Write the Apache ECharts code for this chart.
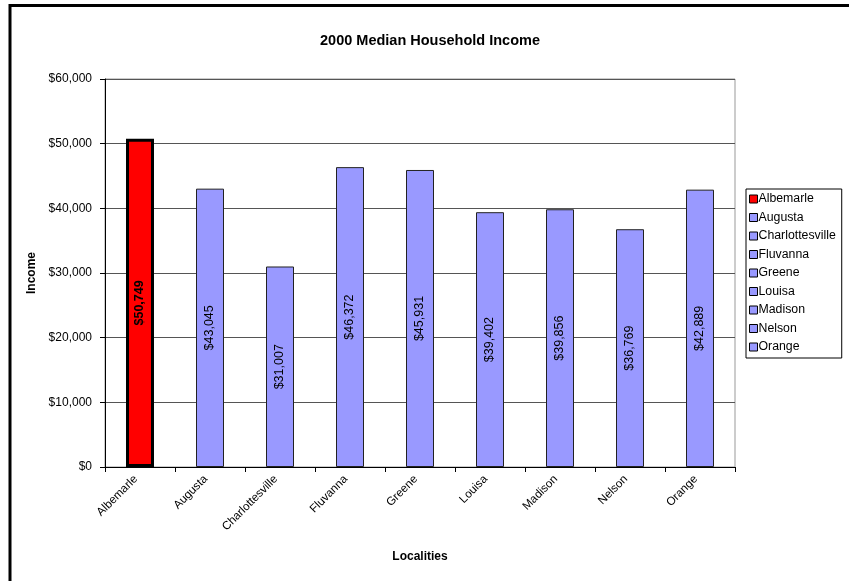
<!DOCTYPE html>
<html>
<head>
<meta charset="utf-8">
<script src="https://cdn.jsdelivr.net/npm/echarts@6/dist/echarts.min.js"></script>
<style>html,body{margin:0;padding:0;background:#fff}#c{width:849px;height:581px}</style>
</head>
<body>
<div id="c"></div>
<script>
const categories = ['Albemarle','Augusta','Charlottesville','Fluvanna','Greene','Louisa','Madison','Nelson','Orange'];
const incomes = [50749, 43045, 31007, 46372, 45931, 39402, 39856, 36769, 42889];
const yTicks = [0, 10000, 20000, 30000, 40000, 50000, 60000];

const fmt = v => '$' + v.toLocaleString('en-US');
const FONT = 'Liberation Sans, Arial, sans-serif';

const series = categories.map((name, i) => {
  const isFirst = i === 0;
  return {
    name: name,
    type: 'bar',
    barWidth: 28,
    barGap: '-100%',
    data: categories.map((c, j) => j === i ? incomes[i] : '-'),
    itemStyle: isFirst
      ? { color: '#ff0000', borderColor: '#000', borderWidth: 3 }
      : { color: '#9999ff', borderColor: '#222', borderWidth: 1 },
    label: {
      show: true,
      position: 'inside',
      rotate: 90,
      formatter: p => fmt(p.value),
      color: '#000',
      fontSize: 12.5,
      fontFamily: FONT,
      fontWeight: isFirst ? 'bold' : 'normal'
    }
  };
});

const chart = echarts.init(document.getElementById('c'), null, {renderer: 'canvas'});
chart.setOption({
  animation: false,
  backgroundColor: '#fff',
  title: {
    text: '2000 Median Household Income',
    left: 425, top: 28, textAlign: 'center',
    textStyle: { fontSize: 14.5, fontWeight: 'bold', color: '#000', fontFamily: FONT }
  },
  legend: {
    orient: 'vertical',
    left: 746, top: 189,
    itemWidth: 8, itemHeight: 8, itemGap: 4.5,
    icon: 'rect',
    padding: [3, 6, 4, 3],
    borderColor: '#000', borderWidth: 1,
    data: categories,
    textStyle: { fontSize: 12.3, lineHeight: 14, color: '#000', fontFamily: FONT, padding: [0, 0, 0, -4] },
    itemStyle: { borderColor: '#000', borderWidth: 1 }
  },
  grid: {
    left: 105, right: 114, top: 79, bottom: 114,
    show: true, borderColor: '#999', borderWidth: 1
  },
  xAxis: {
    type: 'category',
    data: categories,
    name: 'Localities',
    nameLocation: 'middle',
    nameGap: 84,
    nameTextStyle: { fontSize: 12, fontWeight: 'bold', color: '#000', fontFamily: FONT },
    axisLine: { lineStyle: { color: '#000' } },
    axisTick: { show: true, length: 5, lineStyle: { color: '#000' } },
    axisLabel: { rotate: 45, fontSize: 11.6, color: '#000', fontFamily: FONT, margin: 6, padding: [0, 6, 0, 0] }
  },
  yAxis: {
    type: 'value',
    min: yTicks[0], max: yTicks[yTicks.length - 1], interval: 10000,
    name: 'Income',
    nameLocation: 'middle',
    nameGap: 60,
    nameTextStyle: { fontSize: 12, fontWeight: 'bold', color: '#000', fontFamily: FONT },
    axisLine: { show: true, lineStyle: { color: '#000' } },
    axisTick: { show: true, length: 5, lineStyle: { color: '#000' } },
    axisLabel: { formatter: v => fmt(v), fontSize: 12, color: '#000', fontFamily: FONT, margin: 13 },
    splitLine: { show: true, lineStyle: { color: '#555', width: 1 } }
  },
  graphic: [
    { type: 'line', shape: { x1: 9, y1: 5.5, x2: 849, y2: 5.5 }, style: { stroke: '#000', lineWidth: 3 }, silent: true },
    { type: 'line', shape: { x1: 10, y1: 4, x2: 10, y2: 581 }, style: { stroke: '#000', lineWidth: 3 }, silent: true }
  ],
  series: series
});
</script>
</body>
</html>
